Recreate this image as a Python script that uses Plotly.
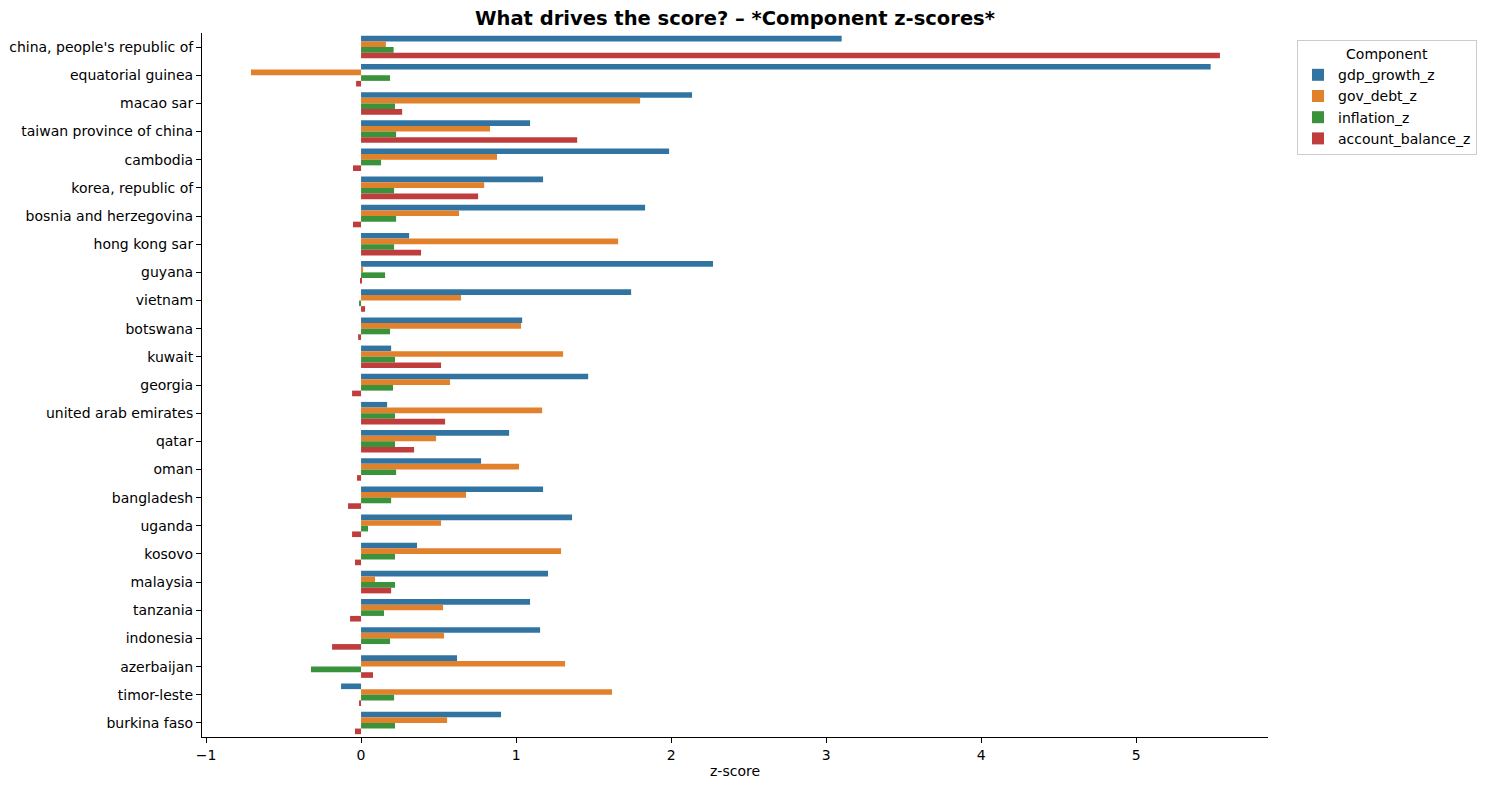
import plotly.graph_objs as go

countries = [
    "china, people's republic of", 'equatorial guinea', 'macao sar', 'taiwan province of china',
    'cambodia', 'korea, republic of', 'bosnia and herzegovina', 'hong kong sar', 'guyana',
    'vietnam', 'botswana', 'kuwait', 'georgia', 'united arab emirates', 'qatar', 'oman',
    'bangladesh', 'uganda', 'kosovo', 'malaysia', 'tanzania', 'indonesia', 'azerbaijan',
    'timor-leste', 'burkina faso'
]

gdp_growth_z = [3.10, 5.48, 2.135, 1.09, 1.987, 1.174, 1.832, 0.31, 2.27, 1.742, 1.039, 0.194,
                1.465, 0.168, 0.955, 0.774, 1.174, 1.361, 0.361, 1.206, 1.09, 1.155, 0.619,
                -0.129, 0.903]
gov_debt_z = [0.16, -0.71, 1.80, 0.832, 0.877, 0.794, 0.632, 1.658, 0.013, 0.645, 1.032, 1.303,
              0.574, 1.168, 0.484, 1.019, 0.677, 0.516, 1.29, 0.09, 0.529, 0.535, 1.316,
              1.619, 0.555]
inflation_z = [0.21, 0.187, 0.219, 0.226, 0.129, 0.213, 0.226, 0.213, 0.155, -0.013, 0.187, 0.219,
               0.206, 0.219, 0.219, 0.226, 0.194, 0.045, 0.219, 0.219, 0.148, 0.187, -0.323,
               0.213, 0.219]
account_balance_z = [5.54, -0.032, 0.265, 1.394, -0.052, 0.755, -0.052, 0.387, -0.006, 0.026,
                     -0.019, 0.516, -0.058, 0.542, 0.342, -0.026, -0.084, -0.058, -0.039, 0.194,
                     -0.071, -0.187, 0.077, -0.013, -0.039]

components = [
    ('gdp_growth_z', gdp_growth_z, '#3274a1'),
    ('gov_debt_z', gov_debt_z, '#e1812c'),
    ('inflation_z', inflation_z, '#3a923a'),
    ('account_balance_z', account_balance_z, '#c03d3e'),
]


def make_plot():
    traces = []
    for name, values, color in components:
        traces.append(go.Bar(
            name=name,
            x=values,
            y=countries,
            orientation='h',
            marker=go.bar.Marker(color=color, line=go.bar.marker.Line(width=0))
        ))

    # page body has an 8px margin, so the figure is a bit smaller than the window
    layout = go.Layout(
        width=1472,
        height=774,
        barmode='group',
        bargap=0.2,
        bargroupgap=0,
        plot_bgcolor='white',
        paper_bgcolor='white',
        font=dict(family='DejaVu Sans', size=14, color='black'),
        title=dict(
            text='<b>What drives the score? – *Component z-scores*</b>',
            x=727 / 1472,
            xanchor='center',
            y=1 - 10 / 774,
            yanchor='middle',
            font=dict(size=19.5)
        ),
        margin=go.layout.Margin(t=25, b=45, l=194, r=212),
        legend=go.layout.Legend(
            title=dict(text='Component', side='top center', font=dict(size=14)),
            xref='container',
            yref='container',
            x=1289 / 1472,
            y=1 - 32 / 774,
            xanchor='left',
            yanchor='top',
            bordercolor='#cccccc',
            borderwidth=1,
            font=dict(size=14),
            traceorder='normal'
        ),
        xaxis=go.layout.XAxis(
            title=dict(text='z-score', standoff=4, font=dict(size=14)),
            automargin=False,
            range=[-1.026, 5.85],
            tickmode='linear',
            tick0=-1,
            dtick=1,
            showgrid=False,
            zeroline=False,
            showline=True,
            linecolor='black',
            linewidth=1,
            ticks='outside',
            ticklen=5,
            tickcolor='black'
        ),
        yaxis=go.layout.YAxis(
            automargin=False,
            range=[24.5, -0.5],
            showgrid=False,
            zeroline=False,
            showline=True,
            linecolor='black',
            linewidth=1,
            ticks='outside',
            ticklen=5,
            tickcolor='black'
        )
    )

    fig = go.Figure(data=traces, layout=layout)
    fig.write_html('out.html')


if __name__ == '__main__':
    make_plot()
